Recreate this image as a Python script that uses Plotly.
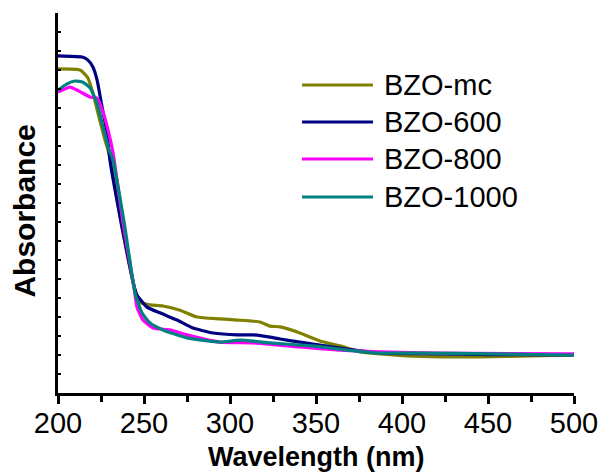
import plotly.graph_objects as go

# ---- data ----
series_names = ["BZO-mc", "BZO-600", "BZO-800", "BZO-1000"]
series_colors = ["#808000", "#000080", "#FF00FF", "#008080"]

mc_x = [200, 212.8, 217.4, 220.3, 223.8, 227.3, 230.2, 237, 244.8, 247.7, 253.5, 261, 270.9,
        280.8, 294.2, 304.1, 317.4, 323.3, 329.1, 340.7, 352.3, 364, 375.6, 387.2, 406.4,
        430, 460, 500]
mc_y = [0.853, 0.850, 0.829, 0.789, 0.726, 0.666, 0.621, 0.440, 0.271, 0.239, 0.232, 0.229, 0.218,
        0.200, 0.195, 0.192, 0.187, 0.176, 0.174, 0.158, 0.137, 0.124, 0.108, 0.103, 0.097,
        0.095, 0.096, 0.100]

b600_x = [200, 207, 214, 217.4, 220.3, 222.7, 225.6, 228.5, 230.2, 237, 244.8, 245.9, 251.7,
          259.3, 269.2, 278.5, 290.1, 304.1, 313.4, 323.3, 329.1, 340.7, 348.3, 364, 375.6,
          390, 420, 450, 500]
b600_y = [0.887, 0.886, 0.884, 0.876, 0.858, 0.824, 0.753, 0.684, 0.613, 0.442, 0.271, 0.258, 0.226,
          0.211, 0.192, 0.171, 0.158, 0.153, 0.153, 0.147, 0.142, 0.134, 0.129, 0.118, 0.111,
          0.105, 0.103, 0.101, 0.100]

b800_x = [200, 207, 212, 218.6, 222.7, 226.2, 229.1, 232, 238, 244, 245.9, 249.4, 255.2, 265.1,
          275, 294.2, 313.4, 340.7, 364, 387.2, 420, 500]
b800_y = [0.792, 0.805, 0.795, 0.779, 0.776, 0.739, 0.692, 0.632, 0.442, 0.284, 0.226, 0.192, 0.171, 0.166,
          0.153, 0.134, 0.132, 0.121, 0.113, 0.108, 0.105, 0.103]

b1000_x = [200, 205, 209.9, 214.5, 218.6, 222.7, 226.2, 229.7, 232, 238.7, 244.8, 248.8, 253.5,
           261, 275, 294.2, 305.8, 323.3, 340.7, 348.3, 368, 387.2, 410.5, 450, 500]
b1000_y = [0.797, 0.813, 0.821, 0.818, 0.803, 0.763, 0.700, 0.639, 0.613, 0.442, 0.263, 0.211, 0.184,
           0.166, 0.145, 0.134, 0.139, 0.132, 0.126, 0.124, 0.113, 0.105, 0.105, 0.103, 0.100]

xs = [mc_x, b600_x, b800_x, b1000_x]
ys = [mc_y, b600_y, b800_y, b1000_y]

x_tickvals = [200, 250, 300, 350, 400, 450, 500]
x_ticktext = ["200", "250", "300", "350", "400", "450", "500"]

FONT = "Liberation Sans, Arial, sans-serif"

fig = go.Figure()
for name, col, x, y in zip(series_names, series_colors, xs, ys):
    fig.add_trace(go.Scatter(x=x, y=y, mode="lines", name=name,
                             line=dict(color=col, width=3.2, shape="spline", smoothing=0.5),
                             showlegend=False))

# custom legend (long line samples like the reference)
leg_rows = [0.8105, 0.7132, 0.6158, 0.5158]
for name, col, yy in zip(series_names, series_colors, leg_rows):
    fig.add_shape(type="line", xref="paper", yref="paper", x0=0.4729, x1=0.6105, y0=yy, y1=yy,
                  line=dict(color=col, width=3))
    fig.add_annotation(xref="paper", yref="paper", x=0.6279, y=yy, text=name, showarrow=False,
                       xanchor="left", yanchor="middle", font=dict(family=FONT, size=29, color="black"))

fig.add_annotation(xref="paper", yref="paper", x=-0.064, y=0.48, text="<b>Absorbance</b>",
                   textangle=-90, showarrow=False, xanchor="center", yanchor="middle",
                   font=dict(family=FONT, size=30, color="black"))

fig.add_annotation(xref="paper", yref="paper", x=0.5, y=-0.168, text="<b>Wavelength (nm)</b>",
                   showarrow=False, xanchor="center", yanchor="middle",
                   font=dict(family=FONT, size=27, color="black"))

fig.update_layout(
    width=603, height=473,
    margin=dict(l=58, r=29, t=13, b=80),
    paper_bgcolor="white", plot_bgcolor="white",
    font=dict(family=FONT, color="black"),
    xaxis=dict(range=[200, 500], showgrid=False, zeroline=False, showline=True,
               linecolor="black", linewidth=3, mirror=False,
               tickmode="array", tickvals=x_tickvals, ticktext=x_ticktext,
               ticks="outside", ticklen=8, tickwidth=3, tickcolor="black",
               ticklabelstandoff=-6,
               minor=dict(dtick=25, tick0=200, ticks="outside", ticklen=6, tickwidth=3, tickcolor="black"),
               tickfont=dict(family=FONT, size=29, color="black"),
               automargin=False),
    yaxis=dict(range=[0, 1], showgrid=False, zeroline=False, showline=True,
               linecolor="black", linewidth=3, mirror=False,
               tickmode="linear", tick0=0, dtick=0.05, showticklabels=False,
               ticks="inside", ticklen=3, tickwidth=2, tickcolor="black",
               automargin=False),
)

fig.write_html("out.html")
